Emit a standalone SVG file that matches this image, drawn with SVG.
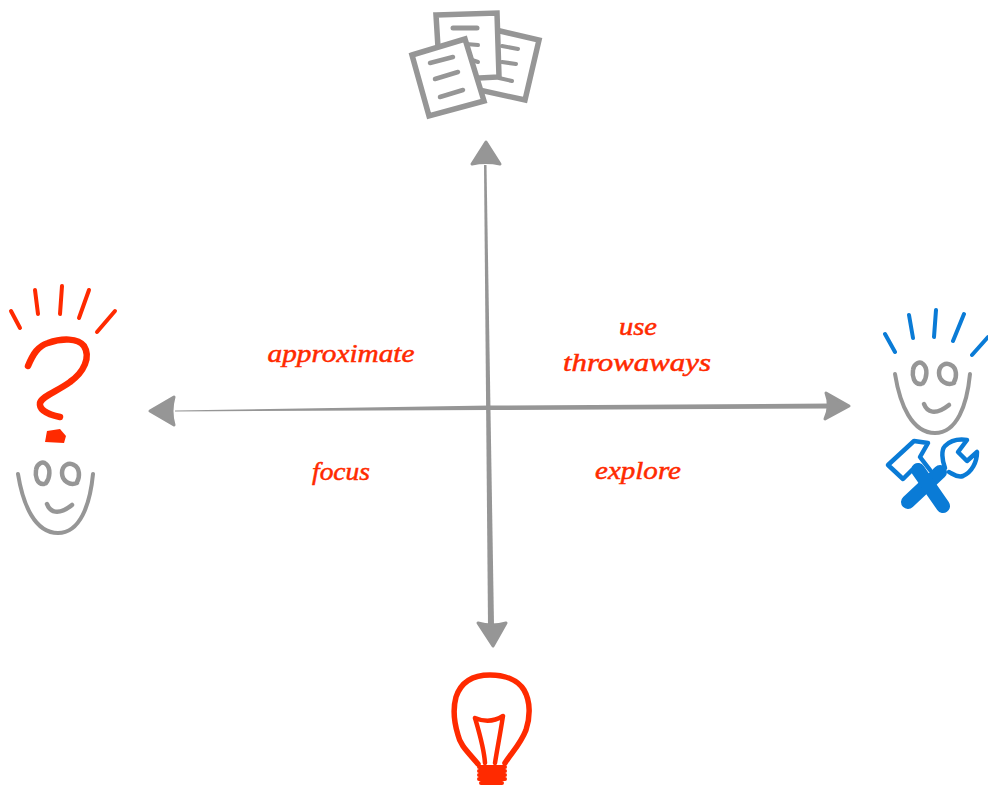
<svg xmlns="http://www.w3.org/2000/svg" width="988" height="785" viewBox="0 0 988 785">
<style>
.g{fill:none;stroke:#969696;stroke-linecap:round;stroke-linejoin:round}
.r{fill:none;stroke:#ff2a00;stroke-linecap:round;stroke-linejoin:round}
.b{fill:none;stroke:#0a7bd6;stroke-linecap:round;stroke-linejoin:round}
.head{fill:#969696;stroke:#969696;stroke-width:3;stroke-linejoin:round}
.axis{fill:#969696}
.paper{fill:#fff;stroke:#969696;stroke-width:5.5;stroke-linejoin:miter}
.lab{font-family:"Liberation Serif",serif;font-style:italic;font-size:25px;fill:#ff2a00;stroke:#ff2a00;stroke-width:.5;text-anchor:middle}
</style>
<defs>
<g id="face">
<path class="g" stroke-width="4" d="M18,474C23,505 35,533 58,533C80,533 90,505 93,474"/>
<path class="g" stroke-width="4.5" d="M44,484C37,485 35,476 36,470C37,463 43,461 46,464C51,468 50,478 46,483"/>
<path class="g" stroke-width="4.5" d="M77,483C70,486 62,481 62,473C62,465 69,462 74,465C80,468 80,477 77,482"/>
<path class="g" stroke-width="4.5" d="M47,504C50,512 58,516 72,505"/>
</g>
</defs>
<g id="connectors">
<polygon class="axis" points="484,165 486.5,165 494,625 488,625"/>
<polygon class="axis" points="175,410.5 175,411.5 490,410 832,408.5 832,403.5 490,405.5"/>
<path class="head" d="M486,142L500,164Q486,161 472,164Z"/>
<path class="head" d="M150,411L174,397Q170,411 174,425Z"/>
<path class="head" d="M849,406L826,393Q831,406 825,419Z"/>
<path class="head" d="M493,646L478,623Q492,627 506,623Z"/>
</g>
<g id="documents">
<polygon class="paper" points="500,31 539,40 525,100 470,88 480,40"/>
<path class="g" stroke-width="4" d="M502,46L518,49M502,62L516,64M499,78L512,81"/>
<polygon class="paper" points="436,15 497,13 499,77 440,80"/>
<path class="g" stroke-width="5" d="M453,28H477"/>
<path class="g" stroke-width="4" d="M466,44L478,45M472,60L478,62"/>
<polygon class="paper" points="412,55 465,39 484,101 429,116"/>
<path class="g" stroke-width="4.5" d="M430,63L453,57M435,79L458,72M440,97L463,90"/>
</g>
<g id="person-question">
<path class="r" stroke-width="4" d="M11,311L20,328M35,290L38,314M62,286L60,314M89,290L79,318M115,311L97,332"/>
<path class="r" stroke-width="6.5" d="M28,366C33,354 38,346 48,343C62,338 78,338 84,346C91,357 84,372 70,382C58,391 42,396 40,403C39,409 46,414 60,417"/>
<path d="M47,431L60,429L66,436L64,443L45,442Z" fill="#ff2a00"/>
<use href="#face"/>
</g>
<g id="person-tools">
<path class="b" stroke-width="4" d="M885,334L895,352M909,315L913,338M936,310L934,337M964,314L953,341M988,337L972,355"/>
<use href="#face" x="877" y="-100"/>
<path class="b" stroke-width="4.5" d="M912,470L903,479L888,465L914,441L928,443L920,457L930,470"/>
<path class="b" stroke-width="4.5" d="M945,468C942,460 941,450 945,446C951,440 960,439 967,440L958,452L967,461L977,452C977,462 972,472 963,476C957,478 953,474 949,472"/>
<path class="b" stroke-width="14" d="M908,502L940,472"/>
<path class="b" stroke-width="14" stroke-linecap="butt" d="M943,506L918,470"/>
</g>
<g id="lightbulb">
<path class="r" stroke-width="5.5" d="M478,764C468,752 460,745 458,735C454,722 453,708 456,697C461,682 473,675 490,675C505,675 518,680 524,690C531,702 530,718 526,730C520,745 512,752 505,763"/>
<path class="r" stroke-width="4.5" d="M485,763C484,748 480,735 475,718C482,721 492,723 503,716C500,735 497,750 495,763"/>
<path class="r" stroke-width="4" d="M479,767H505M479,771H505M479,775H505M479,779H505M481,783H502"/>
</g>
<g id="labels">
<text class="lab" x="341" y="362" textLength="147" lengthAdjust="spacingAndGlyphs">approximate</text>
<text class="lab" x="638" y="335" textLength="38" lengthAdjust="spacingAndGlyphs">use</text>
<text class="lab" x="637" y="371" textLength="148" lengthAdjust="spacingAndGlyphs">throwaways</text>
<text class="lab" x="341" y="480" textLength="58" lengthAdjust="spacingAndGlyphs">focus</text>
<text class="lab" x="638" y="479" textLength="86" lengthAdjust="spacingAndGlyphs">explore</text>
</g>
</svg>
